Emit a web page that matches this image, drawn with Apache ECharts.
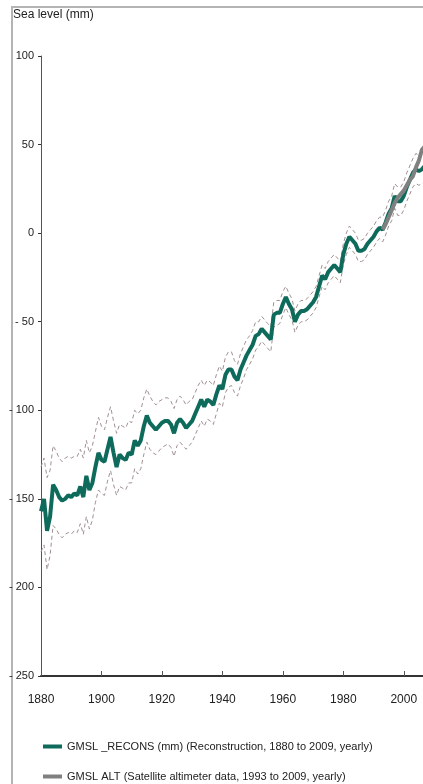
<!DOCTYPE html>
<html>
<head>
<meta charset="utf-8">
<script src="https://cdn.jsdelivr.net/npm/echarts@6/dist/echarts.min.js"></script>
<style>
html,body{margin:0;padding:0;background:#fff;overflow:hidden;}
#c{width:423px;height:784px;}
</style>
</head>
<body>
<div id="c"></div>
<script>
var years = [];
for (var y = 1880; y <= 2009; y++) years.push(y);

var reconsMain = [
-157,-150,-168,-160,-142,-145,-149,-151,-150,-148,
-149,-147,-148,-143,-149,-137,-145,-141,-132,-124,
-128,-129,-122,-115,-124,-132,-125,-127,-128,-124,
-125,-117,-120,-117,-109,-103,-107,-109,-111,-109,
-107,-106,-106,-108,-113,-107,-105,-107,-110,-108,
-106,-102,-98,-94,-98,-94,-95,-97,-91,-86,
-88,-80,-77,-77,-81,-83,-77,-73,-69,-66,
-63,-58,-57,-54,-56,-58,-60,-46,-45,-45,
-40,-36,-40,-43,-50,-46,-44,-44,-43,-41,
-39,-36,-30,-24,-26,-22,-20,-18,-20,-22,
-12,-6,-2,-4,-6,-10,-10,-9,-6,-4,
-2,1,3,2,6,11,14,21,18,18,
21,26,30,34,36,35,36,38,42,43
];

var reconsUpper = [
-132,-127,-138,-134,-120,-123,-127,-129,-127,-126,
-127,-126,-126,-122,-127,-117,-124,-120,-112,-104,
-109,-111,-104,-98,-106,-113,-108,-109,-110,-106,
-107,-100,-102,-100,-93,-88,-92,-95,-97,-95,
-94,-93,-93,-95,-99,-94,-92,-94,-97,-95,
-94,-90,-86,-83,-86,-83,-84,-86,-80,-75,
-78,-70,-67,-67,-72,-74,-68,-64,-60,-58,
-55,-50,-50,-47,-49,-51,-53,-39,-38,-38,
-33,-30,-34,-37,-44,-40,-38,-38,-37,-35,
-33,-30,-24,-18,-20,-16,-14,-12,-14,-16,
-6,0,4,2,0,-4,-4,-3,0,2,
4,7,9,9,13,18,21,28,26,26,
29,34,38,42,45,44,45,47,51,52
];

var reconsLower = [
-180,-176,-190,-182,-165,-167,-170,-172,-170,-169,
-170,-168,-169,-164,-170,-160,-167,-162,-152,-145,
-147,-148,-140,-134,-142,-148,-143,-144,-145,-141,
-141,-133,-136,-133,-125,-118,-122,-124,-125,-123,
-121,-120,-119,-121,-126,-120,-118,-120,-122,-120,
-118,-114,-110,-106,-109,-105,-106,-108,-102,-96,
-98,-90,-87,-86,-90,-92,-86,-82,-77,-74,
-71,-66,-64,-61,-63,-65,-67,-53,-52,-51,
-46,-42,-46,-49,-56,-52,-50,-50,-49,-47,
-45,-42,-36,-30,-32,-28,-26,-24,-26,-28,
-18,-12,-8,-10,-12,-16,-16,-15,-12,-10,
-8,-5,-3,-5,-1,4,7,14,10,10,
13,18,22,26,28,27,28,29,33,34
];

var altYears = [1993,1994,1995,1996,1997,1998,1999,2000,2001,2002,2003,2004,2005,2006,2007,2008,2009];
var altValues = [2,5,9,13,17,20,22,24,27,30,32,37,41,47,49,51,54];

var xTickLabels = ['1880','1900','1920','1940','1960','1980','2000'];
var yTickLabels = ['100','50','0','- 50','- 100','- 150','- 200','- 250'];

var nameRecons = 'GMSL _RECONS (mm) (Reconstruction, 1880 to 2009, yearly)';
var nameAlt = 'GMSL ALT (Satellite altimeter data, 1993 to 2009, yearly)';

function pairs(xs, vs){ return xs.map(function(x,i){ return [x, vs[i]]; }); }

var FONT = '"Liberation Sans Narrow","Liberation Sans",Arial,sans-serif';
var TXT = '#222';
var chart = echarts.init(document.getElementById('c'), null, {renderer:'canvas'});
chart.setOption({
  animation:false,
  backgroundColor:'#fff',
  graphic:[{
    type:'polyline', silent:true, z:-1,
    shape:{points:[[12, 790],[12, 7],[430, 7]]},
    style:{fill:'none', stroke:'#b4b4b4', lineWidth:2}
  }],
  title:{
    text:'Sea level (mm)', left:13, top:9, padding:0,
    textStyle:{fontFamily:FONT, fontSize:12, fontWeight:'normal', color:TXT}
  },
  legend:[{
    orient:'horizontal', left:43, top:741, padding:0,
    itemWidth:19, itemHeight:4, icon:'rect',
    data:[nameRecons],
    textStyle:{fontFamily:FONT, fontSize:11, color:TXT}
  },{
    orient:'horizontal', left:43, top:771, padding:0,
    itemWidth:19, itemHeight:4, icon:'rect',
    data:[nameAlt],
    textStyle:{fontFamily:FONT, fontSize:11, color:TXT}
  }],
  grid:{left:41, right:-11, top:56, bottom:108, containLabel:false, outerBoundsMode:'none'},
  xAxis:{
    type:'value', min:1880, max:2010, interval:20,
    axisLine:{onZero:false, lineStyle:{color:'#333', width:2}},
    axisTick:{inside:true, length:5, lineStyle:{color:'#555'}},
    axisLabel:{margin:18, fontFamily:FONT, fontSize:12, color:TXT, showMaxLabel:false,
      formatter:function(v){ return xTickLabels[(v-1880)/20] || ''; }},
    splitLine:{show:false}
  },
  yAxis:{
    type:'value', min:-250, max:100, interval:50,
    axisLine:{show:true, lineStyle:{color:'#555', width:1}},
    axisTick:{show:true, length:3, lineStyle:{color:'#333'}},
    axisLabel:{margin:7, fontFamily:FONT, fontSize:11, color:TXT,
      formatter:function(v){ return yTickLabels[(100-v)/50]; }},
    splitLine:{show:false}
  },
  series:[
    {name:'upper', type:'line', data:pairs(years, reconsUpper), symbol:'none',
      lineStyle:{color:'#a09090', width:1, type:[4,3]}, z:1},
    {name:'lower', type:'line', data:pairs(years, reconsLower), symbol:'none',
      lineStyle:{color:'#a09090', width:1, type:[4,3]}, z:1},
    {name:nameRecons, type:'line',
      data:pairs(years, reconsMain), symbol:'none',
      itemStyle:{color:'#0e6b5c'}, lineStyle:{color:'#0e6b5c', width:4}, z:2},
    {name:nameAlt, type:'line',
      data:pairs(altYears, altValues), symbol:'none',
      itemStyle:{color:'#808080'}, lineStyle:{color:'#808080', width:4}, z:3}
  ]
});
</script>
</body>
</html>
